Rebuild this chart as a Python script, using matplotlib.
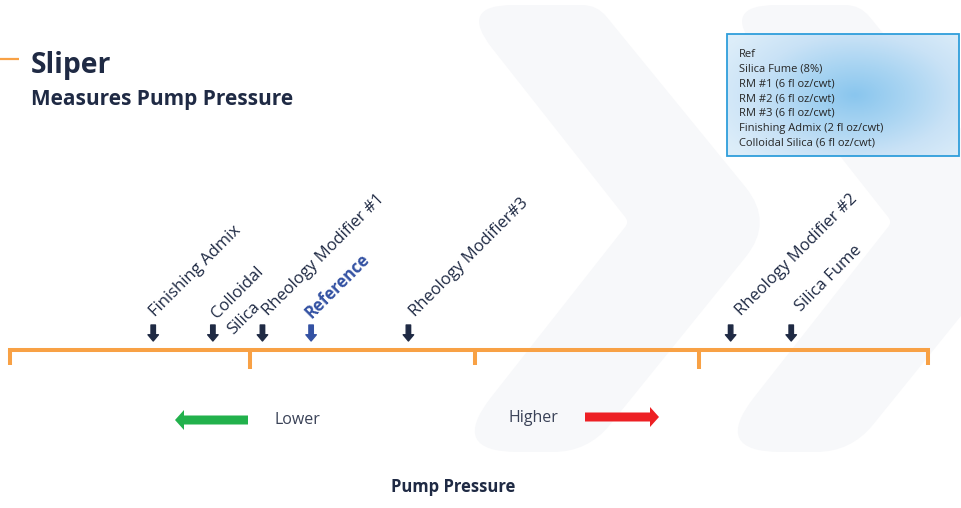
import numpy as np
import matplotlib.pyplot as plt
from matplotlib.path import Path
from matplotlib.patches import PathPatch, Rectangle, FancyArrow
from matplotlib.colors import LinearSegmentedColormap
from matplotlib import transforms

plt.rcParams['font.family'] = ['Open Sans', 'DejaVu Sans']

# relative pump pressure along the scale (0 = low end, 100 = high end)
materials = ['Finishing Admix', 'Colloidal\nSilica', 'Rheology Modifier #1', 'Reference',
             'Rheology Modifier#3', 'Rheology Modifier #2', 'Silica Fume']
pressure = [15.6, 22.1, 27.5, 32.8, 43.4, 78.5, 85.1]
scale_ticks = [0, 26.1, 50.7, 75.0, 100]

legend_lines = ['Ref', 'Silica Fume (8%)', 'RM #1 (6 fl oz/cwt)', 'RM #2 (6 fl oz/cwt)',
                'RM #3 (6 fl oz/cwt)', 'Finishing Admix (2 fl oz/cwt)',
                'Colloidal Silica (6 fl oz/cwt)']

# small hand nudges (pixels) so the slanted labels sit where they were set
label_nudge = [(2, 317), (4, 319), (6, 316), (0, 319), (7, 317), (11, 316), (10, 312)]

NAVY = '#1f2a44'
ORANGE = '#f8a145'
REF_BLUE = '#3452a3'


def rounded_path(pts, radii):
    """Closed polygon with corners cut by quadratic curves."""
    pts = [np.asarray(p, float) for p in pts]
    n = len(pts)
    verts, codes = [], []
    for i in range(n):
        p0, p1, p2 = pts[i - 1], pts[i], pts[(i + 1) % n]
        d1 = (p0 - p1) / np.linalg.norm(p0 - p1)
        d2 = (p2 - p1) / np.linalg.norm(p2 - p1)
        a, b = p1 + d1 * radii[i], p1 + d2 * radii[i]
        verts.append(a)
        codes.append(Path.MOVETO if i == 0 else Path.LINETO)
        verts += [p1, b]
        codes += [Path.CURVE3, Path.CURVE3]
    verts.append(verts[0])
    codes.append(Path.CLOSEPOLY)
    return Path(verts, codes)


fig = plt.figure(figsize=(9.61, 5.08), dpi=100)
bg = fig.add_axes([0, 0, 1, 1])
bg.set_xlim(0, 961)
bg.set_ylim(508, 0)
bg.axis('off')

# faint chevrons in the background
chevron = [(458, 5), (597, 5), (774, 222), (588, 452), (448, 452), (629, 222)]
radii = [55, 15, 45, 35, 70, 6]
for shift in (0, 263):
    pts = [(x + shift, y) for x, y in chevron]
    bg.add_patch(PathPatch(rounded_path(pts, radii), facecolor='#f7f8fa',
                           edgecolor='none', zorder=0))

# title
bg.plot([0, 19], [59, 59], color=ORANGE, lw=1.6, solid_capstyle='butt')
bg.text(31, 73, 'Sliper', fontsize=20.3, weight='bold', color=NAVY, va='baseline')
bg.text(31, 105, 'Measures Pump Pressure', fontsize=15, weight='bold', color=NAVY,
        va='baseline')

# legend box with radial blue fill
x0, x1, y0, y1 = 727, 959, 34, 156
gx, gy = np.meshgrid(np.linspace(x0, x1, 240), np.linspace(y0, y1, 130))
dist = np.sqrt(((gx - 855) / 150) ** 2 + ((gy - 95) / 90) ** 2)
dist = np.clip(dist, 0, 1)
cmap = LinearSegmentedColormap.from_list('box', ['#8ac6ee', '#a8d4f2', '#c9e2f6', '#dcedf9'])
bg.imshow(dist, cmap=cmap, extent=[x0, x1, y1, y0], aspect='auto', zorder=1,
          interpolation='bilinear')
bg.add_patch(Rectangle((x0, y0), x1 - x0, y1 - y0, facecolor='none',
                       edgecolor='#2f9edb', lw=1.3, zorder=2))
for i, line in enumerate(legend_lines):
    bg.text(739, 57 + i * 14.7, line, fontsize=8, color='#262626', va='baseline', zorder=3)

# pressure scale
ax = fig.add_axes([10 / 961, 0, 918 / 961, 1])
ax.set_xlim(0, 100)
ax.set_ylim(508, 0)
ax.axis('off')

ax.plot([scale_ticks[0], scale_ticks[-1]], [350, 350], color=ORANGE, lw=2.9,
        solid_capstyle='projecting', clip_on=False)
for i, t in enumerate(scale_ticks):
    ax.plot([t, t], [350, 369 if i % 2 else 365], color=ORANGE, lw=2.9,
            solid_capstyle='butt', clip_on=False)

for name, p, (dx, base) in zip(materials, pressure, label_nudge):
    is_ref = name == 'Reference'
    c = REF_BLUE if is_ref else NAVY
    ax.annotate('', xy=(p, 341), xytext=(p, 325),
                arrowprops=dict(arrowstyle='simple,head_length=0.45,head_width=0.75,tail_width=0.32',
                                color=c, shrinkA=0, shrinkB=0, mutation_scale=10))
    # each line of a label is stepped down-right, perpendicular to the 45° baseline
    for k, part in enumerate(name.split('\n')):
        tr = transforms.offset_copy(ax.transData, fig=fig, x=dx + 16 * k,
                                    y=-(16 * k), units='dots')
        ax.text(p, base, part, rotation=45, rotation_mode='anchor', ha='left',
                va='baseline', fontsize=12, color=c,
                weight='bold' if is_ref else 'normal', transform=tr)

# direction arrows
bg.add_patch(FancyArrow(248, 420, -73, 0, width=9, head_width=20, head_length=9,
                        length_includes_head=True, color='#22b14c', lw=0))
bg.add_patch(FancyArrow(585, 417, 74, 0, width=9, head_width=20, head_length=9,
                        length_includes_head=True, color='#ed2024', lw=0))
bg.text(274, 420, 'Lower', fontsize=11.5, color='#3a4257', va='center')
bg.text(508, 418, 'Higher', fontsize=11.5, color='#3a4257', va='center')
bg.text(453, 487, 'Pump Pressure', fontsize=12, weight='bold', color=NAVY,
        ha='center', va='center')

fig.savefig('out.png', dpi=100)
